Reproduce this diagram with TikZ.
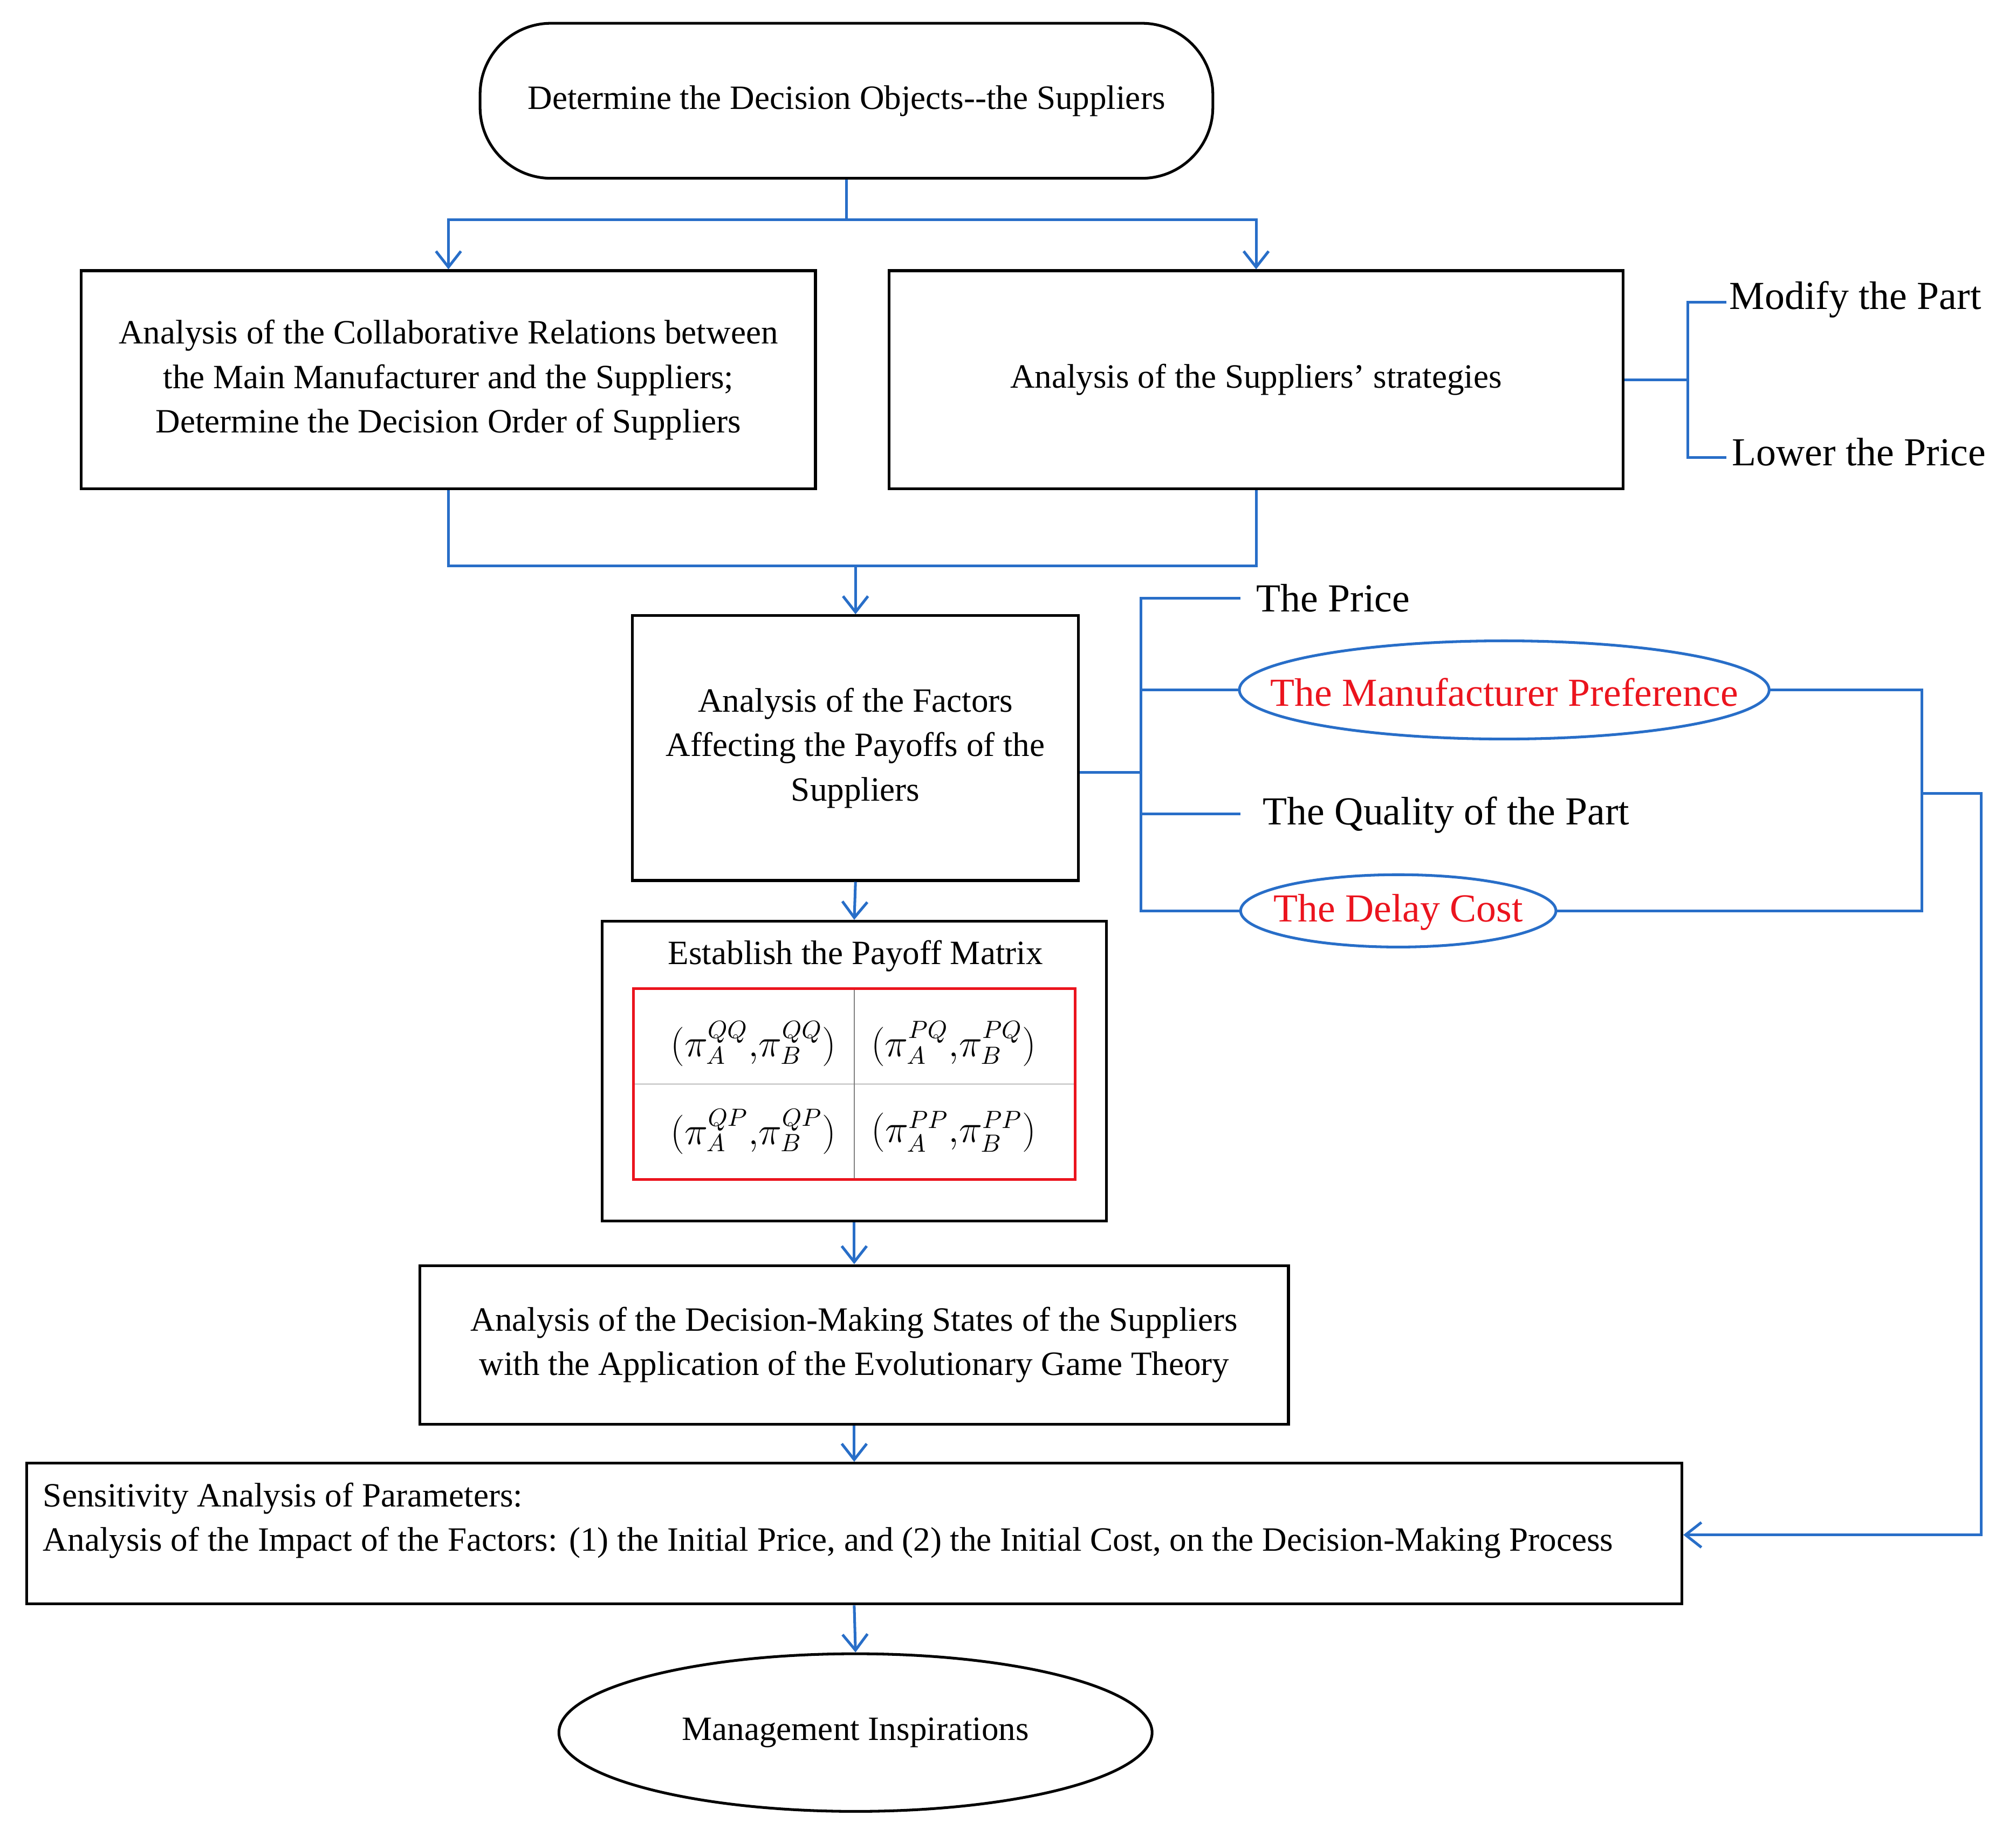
\documentclass[tikz,border=0pt]{standalone}
\usepackage{fontspec}
\setmainfont{Liberation Serif}
\usetikzlibrary{shapes.geometric,arrows.meta}
\definecolor{lineblue}{RGB}{40,110,200}
\definecolor{matred}{RGB}{235,20,30}
\tikzset{
  box/.style={draw, very thick, align=center, font=\fontsize{15}{19.5}\selectfont, inner sep=0pt},
  flow/.style={lineblue, very thick},
  arr/.style={lineblue, very thick, -{Straight Barb[length=7pt,width=11pt]}},
  side/.style={font=\fontsize{17.5}{21}\selectfont, anchor=west, inner sep=0pt},
  oval/.style={draw=lineblue, very thick},
  cell/.style={font=\fontsize{16}{18}\selectfont, inner sep=0pt}
}
\begin{document}
\begin{tikzpicture}[x=0.02cm, y=-0.02cm]
    \useasboundingbox (0,0) rectangle (1560,1411);

    % Boxes
    \node[box, rounded corners=1.1cm, minimum width=567*0.02cm, minimum height=120*0.02cm] (obj) at (655,78) {Determine the Decision Objects{-}{-}the Suppliers};
    \node[box, minimum width=568*0.02cm, minimum height=169*0.02cm] (rel) at (347,294) {Analysis of the Collaborative Relations between\\the Main Manufacturer and the Suppliers;\\Determine the Decision Order of Suppliers};
    \node[box, minimum width=568*0.02cm, minimum height=169*0.02cm] (strat) at (972,294) {Analysis of the Suppliers’ strategies};
    \node[box, minimum width=345*0.02cm, minimum height=205*0.02cm] (fac) at (662,579) {Analysis of the Factors\\Affecting the Payoffs of the\\Suppliers};
    \node[box, minimum width=390*0.02cm, minimum height=232*0.02cm] (mat) at (661,829) {};
    \node[box, minimum width=672*0.02cm, minimum height=123*0.02cm] (evo) at (661,1041) {Analysis of the Decision-Making States of the Suppliers\\with the Application of the Evolutionary Game Theory};
    \node[box, minimum width=1281*0.02cm, minimum height=109*0.02cm] (sens) at (661,1187) {};
    \node[box, ellipse, minimum width=459*0.02cm, minimum height=122*0.02cm] (mgmt) at (662,1341) {Management Inspirations};

    % Payoff matrix
    \node[font=\fontsize{15}{18}\selectfont] (mtitle) at (662,740) {Establish the Payoff Matrix};
    \draw[gray] (661,765) -- (661,913) (490,839) -- (832,839);
    \draw[matred, very thick] (490,765) rectangle (832,913);
    \node[cell] (qq) at (583,808) {$(\pi_A^{QQ}{,}\pi_B^{QQ})$};
    \node[cell] (pq) at (738,808) {$(\pi_A^{PQ}{,}\pi_B^{PQ})$};
    \node[cell] (qp) at (583,876) {$(\pi_A^{QP}{,}\pi_B^{QP})$};
    \node[cell] (pp) at (738,876) {$(\pi_A^{PP}{,}\pi_B^{PP})$};

    % Sensitivity text
    \node[font=\fontsize{15}{19.5}\selectfont, anchor=west, align=left, inner sep=0pt] (senstxt) at (33,1177) {Sensitivity Analysis of Parameters:\\Analysis of the Impact of the Factors: (1) the Initial Price, and (2) the Initial Cost, on the Decision-Making Process};

    % Side labels
    \node[side] (modify) at (1338,232) {Modify the Part};
    \node[side] (lower) at (1340,350) {Lower the Price};
    \node[side] (price) at (972,463) {The Price};
    \node[side, anchor=center, text=matred] (pref) at (1164,536) {The Manufacturer Preference};
    \draw[oval] (1164,534) ellipse [x radius=205*0.02cm, y radius=38*0.02cm];
    \coordinate (prefW) at (959,534);
    \coordinate (prefE) at (1369,534);
    \node[side] (qual) at (977,631) {The Quality of the Part};
    \node[side, anchor=center, text=matred] (delay) at (1082,706) {The Delay Cost};
    \draw[oval] (1082,705) ellipse [x radius=122*0.02cm, y radius=28*0.02cm];
    \coordinate (delayW) at (960,705);
    \coordinate (delayE) at (1204,705);

    % Connectors
    \draw[flow] (obj.south) -- (655,170);
    \draw[arr] (655,170) -| (rel.north);
    \draw[arr] (655,170) -| (strat.north);
    \draw[flow] (strat.east) -- (1306,294);
    \draw[flow] (1336,234) -| (1306,354) -- (1336,354);
    \draw[flow] (rel.south) |- (972,438) -- (strat.south);
    \draw[arr] (662,438) -- (fac.north);
    \draw[flow] (fac.east |- 0,598) -- (883,598);
    \draw[flow] (960,463) -| (883,705) -- (delayW);
    \draw[flow] (883,534) -- (prefW);
    \draw[flow] (883,630) -- (960,630);
    \draw[flow] (prefE) -| (1487,705) -- (delayE);
    \draw[arr] (1487,614) -| (1533,1188) -- (sens.east |- 0,1188);
    \draw[arr] (fac.south) -- (mat.north);
    \draw[arr] (mat.south) -- (evo.north);
    \draw[arr] (evo.south) -- (sens.north);
    \draw[arr] (sens.south) -- (mgmt.north);
\end{tikzpicture}
\end{document}
